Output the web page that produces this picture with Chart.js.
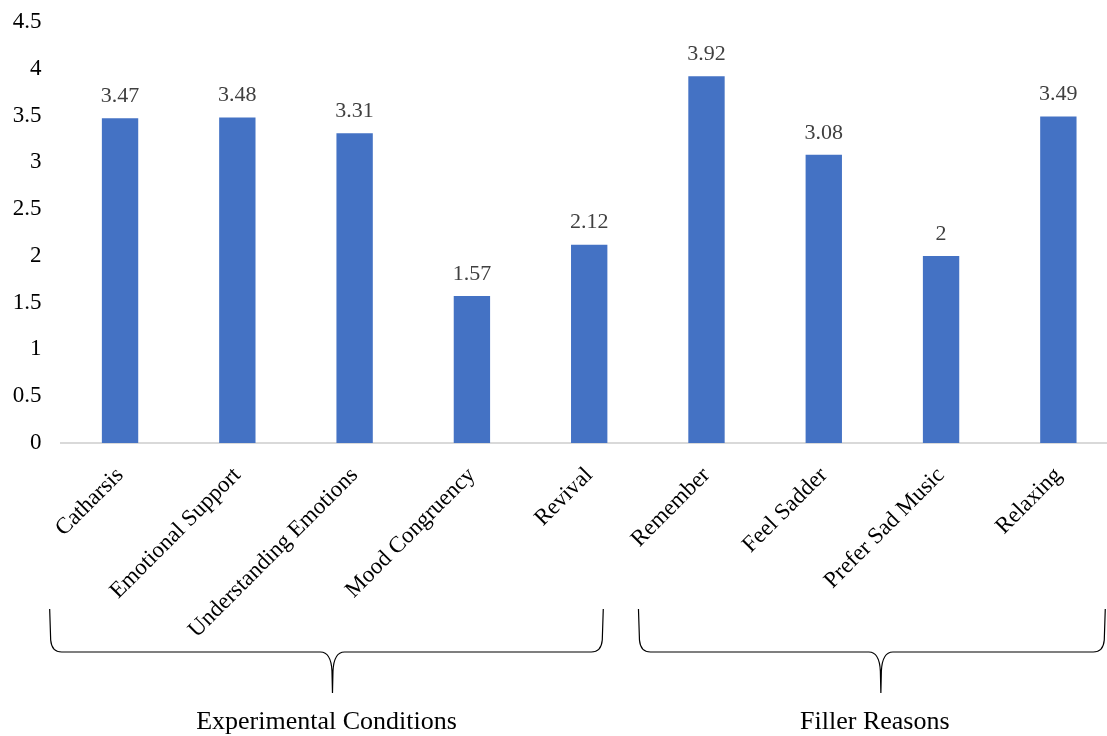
<!DOCTYPE html>
<html>
<head>
<meta charset="utf-8">
<script src="https://cdn.jsdelivr.net/npm/chart.js@4.4.1/dist/chart.umd.min.js"></script>
<style>
  html, body { margin: 0; padding: 0; background: #fff; overflow: hidden; }
  #wrap { position: relative; width: 1117px; height: 736px; }
</style>
</head>
<body>
<div id="wrap"><canvas id="chart" width="1117" height="736"></canvas></div>
<script>
// Reasons for listening to sad music: mean ratings
const categories = [
  'Catharsis', 'Emotional Support', 'Understanding Emotions', 'Mood Congruency', 'Revival',
  'Remember', 'Feel Sadder', 'Prefer Sad Music', 'Relaxing'
];
const meanRatings = [3.47, 3.48, 3.31, 1.57, 2.12, 3.92, 3.08, 2, 3.49];
const groupNames = ['Experimental Conditions', 'Filler Reasons'];
const groupFirst = [0, 5];   // first category index of each group
const groupLast = [4, 8];    // last category index of each group

const SERIF = '"Liberation Serif", "Times New Roman", serif';

// Writes each bar's value above it
const valueLabels = {
  id: 'valueLabels',
  afterDatasetsDraw(chart) {
    const ctx = chart.ctx;
    const meta = chart.getDatasetMeta(0);
    ctx.save();
    ctx.font = '22px ' + SERIF;
    ctx.fillStyle = '#404040';
    ctx.textAlign = 'center';
    ctx.textBaseline = 'bottom';
    meta.data.forEach((bar, i) => {
      ctx.fillText(String(meanRatings[i]), bar.x, bar.y - 11);
    });
    ctx.restore();
  }
};

// Curly braces grouping the categories, with the group name underneath
const groupBraces = {
  id: 'groupBraces',
  afterDraw(chart) {
    const ctx = chart.ctx;
    const xs = chart.scales.x;
    const step = xs.getPixelForValue(1) - xs.getPixelForValue(0);
    const top = 609, mid = 652, tip = 693, r = 12;
    ctx.save();
    ctx.strokeStyle = '#000';
    ctx.lineWidth = 1.2;
    groupNames.forEach((name, g) => {
      const left = xs.getPixelForValue(groupFirst[g]) - step * (g === 0 ? 0.6 : 0.58);
      const right = xs.getPixelForValue(groupLast[g]) + step * (g === 0 ? 0.12 : 0.4);
      const cx = (left + right) / 2 + (g === 0 ? 6 : 9);
      ctx.beginPath();
      ctx.moveTo(left, top);
      ctx.lineTo(left + 1, mid - r);
      ctx.quadraticCurveTo(left + 2, mid, left + r, mid);
      ctx.lineTo(cx - r, mid);
      ctx.quadraticCurveTo(cx - 1.5, mid, cx - 0.5, tip - 22);
      ctx.lineTo(cx, tip);
      ctx.moveTo(cx, tip);
      ctx.lineTo(cx + 0.5, tip - 22);
      ctx.quadraticCurveTo(cx + 1.5, mid, cx + r, mid);
      ctx.lineTo(right - r, mid);
      ctx.quadraticCurveTo(right - 2, mid, right - 1, mid - r);
      ctx.lineTo(right, top);
      ctx.stroke();

      ctx.font = '26px ' + SERIF;
      ctx.fillStyle = '#000';
      ctx.textAlign = 'center';
      ctx.textBaseline = 'middle';
      ctx.fillText(name, cx - 6, 722);
    });
    ctx.restore();
  }
};

new Chart(document.getElementById('chart'), {
  type: 'bar',
  data: {
    labels: categories,
    datasets: [{
      data: meanRatings,
      backgroundColor: '#4472C4',
      borderWidth: 0,
      barPercentage: 0.31,
      categoryPercentage: 1.0
    }]
  },
  options: {
    responsive: false,
    animation: false,
    events: [],
    layout: { padding: { top: 22, right: 0, bottom: 0, left: 0 } },
    plugins: { legend: { display: false }, tooltip: { enabled: false } },
    scales: {
      x: {
        grid: { display: false, drawTicks: false },
        border: { display: true, color: '#D9D9D9', width: 2 },
        ticks: {
          color: '#000',
          font: { family: SERIF, size: 23 },
          minRotation: 45,
          maxRotation: 45,
          padding: 19,
          autoSkip: false
        },
        afterFit(scale) {
          scale.height = 293;
          scale.paddingLeft = 0;
          scale.paddingRight = 0;
        }
      },
      y: {
        min: 0,
        max: 4.5,
        grid: { display: false, drawTicks: false },
        border: { display: false },
        ticks: {
          stepSize: 0.5,
          color: '#000',
          font: { family: SERIF, size: 23 },
          padding: 20,
          callback: (v) => String(Math.round(v * 10) / 10)
        },
        afterFit(scale) {
          scale.width = 61.4;
          scale.paddingTop = 0;
          scale.paddingBottom = 0;
        }
      }
    }
  },
  plugins: [valueLabels, groupBraces]
});
</script>
</body>
</html>
